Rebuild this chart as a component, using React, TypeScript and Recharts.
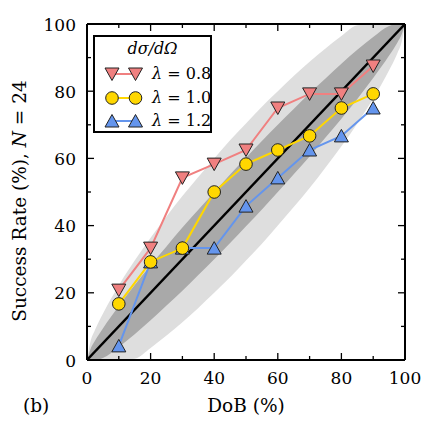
import React from 'react';
import { ComposedChart, Line, Area, XAxis, YAxis, Legend } from 'recharts';

// Degree of belief (%) for each run
const dob = [10, 20, 30, 40, 50, 60, 70, 80, 90];
// Success rate (%) for the three λ values, N = 24
const rateL08 = [20.8, 33.3, 54.2, 58.3, 62.5, 75.0, 79.2, 79.2, 87.5];
const rateL10 = [16.7, 29.2, 33.3, 50.0, 58.3, 62.5, 66.7, 75.0, 79.2];
const rateL12 = [4.2, 29.2, 33.3, 33.3, 45.8, 54.2, 62.5, 66.7, 75.0];

// Grey confidence bands read along the diagonal
const bandX = [0, 1, 2.5, 5, 10, 15, 20, 25, 30, 35, 40, 45, 50, 55, 60, 65, 70, 75, 80, 85, 90, 95, 97.5, 99, 100];
const outerLo = [0, 0, 0, 0, 0, 0.4, 3.6, 7.3, 11.2, 15.5, 20, 24.6, 29.6, 34.6, 40, 45.5, 51.2, 57.3, 63.6, 70.4, 77.8, 86.2, 91.1, 94.9, 100];
const outerHi = [0, 5.1, 8.9, 13.8, 22.2, 29.6, 36.4, 42.7, 48.8, 54.5, 60, 65.4, 70.4, 75.4, 80, 84.5, 88.8, 92.7, 96.4, 99.6, 100, 100, 100, 100, 100];
const innerLo = [0, 0, 0, 0.6, 3.9, 7.7, 11.8, 16.2, 20.6, 25.3, 30, 34.8, 39.8, 44.8, 50, 55.3, 60.6, 66.2, 71.8, 77.7, 83.9, 90.6, 94.3, 97, 100];
const innerHi = [0, 3.0, 5.7, 9.4, 16.1, 22.3, 28.2, 33.8, 39.4, 44.7, 50, 55.2, 60.2, 65.2, 70, 74.7, 79.4, 83.8, 88.2, 92.3, 96.1, 99.4, 100, 100, 100];

const diagX = [0, 100];

const axisTicks = [0, 10, 20, 30, 40, 50, 60, 70, 80, 90, 100];
const labelledTicks = [0, 20, 40, 60, 80, 100];

const seriesNames = ['λ = 0.8', 'λ = 1.0', 'λ = 1.2'];
const legendTitle = 'dσ/dΩ';

const RED = '#f08080';
const GOLD = '#ffd700';
const BLUE = '#6495ed';
const EDGE = '#222222';
const LIGHT = '#dedede';
const DARK = '#a9a9a9';
const FONT = "'DejaVu Serif', serif";
const FS = 17;
const LFS = 18.5;

const outerBand = bandX.map((x, i) => ({ x, range: [outerLo[i], outerHi[i]] }));
const innerBand = bandX.map((x, i) => ({ x, range: [innerLo[i], innerHi[i]] }));
const diagData = diagX.map((x) => ({ x, y: x }));
const d08 = dob.map((x, i) => ({ x, y: rateL08[i] }));
const d10 = dob.map((x, i) => ({ x, y: rateL10[i] }));
const d12 = dob.map((x, i) => ({ x, y: rateL12[i] }));

const MAJ = 7;
const MIN = 4;

function triDown(cx: number, cy: number) {
  return `M${cx - 7},${cy - 6} L${cx + 7},${cy - 6} L${cx},${cy + 6.5} Z`;
}
function triUp(cx: number, cy: number) {
  return `M${cx - 7},${cy + 6} L${cx + 7},${cy + 6} L${cx},${cy - 6.5} Z`;
}

const BottomTick = (props: any) => {
  const { x, y, payload } = props;
  const v = payload.value;
  const major = labelledTicks.includes(v);
  return (
    <g>
      <line x1={x} x2={x} y1={y} y2={y - (major ? MAJ : MIN)} stroke="#000" strokeWidth={1.3} />
      {major && (
        <text x={x} y={y + 24} textAnchor="middle" fontFamily={FONT} fontSize={FS} fill="#000">
          {v}
        </text>
      )}
    </g>
  );
};
const TopTick = (props: any) => {
  const { x, y, payload } = props;
  const major = labelledTicks.includes(payload.value);
  return <line x1={x} x2={x} y1={y} y2={y + (major ? MAJ : MIN)} stroke="#000" strokeWidth={1.3} />;
};
const LeftTick = (props: any) => {
  const { x, y, payload } = props;
  const v = payload.value;
  const major = labelledTicks.includes(v);
  return (
    <g>
      <line x1={x} x2={x + (major ? MAJ : MIN)} y1={y} y2={y} stroke="#000" strokeWidth={1.3} />
      {major && (
        <text x={x - 11} y={y + 6.5} textAnchor="end" fontFamily={FONT} fontSize={FS} fill="#000">
          {v}
        </text>
      )}
    </g>
  );
};
const RightTick = (props: any) => {
  const { x, y, payload } = props;
  const major = labelledTicks.includes(payload.value);
  return <line x1={x} x2={x - (major ? MAJ : MIN)} y1={y} y2={y} stroke="#000" strokeWidth={1.3} />;
};

const dotDown = (fill: string) => (p: any) => (
  <path key={`d${p.index}`} d={triDown(p.cx, p.cy)} fill={fill} stroke={EDGE} strokeWidth={1} />
);
const dotUp = (fill: string) => (p: any) => (
  <path key={`u${p.index}`} d={triUp(p.cx, p.cy)} fill={fill} stroke={EDGE} strokeWidth={1} />
);
const dotCircle = (fill: string) => (p: any) => (
  <circle key={`c${p.index}`} cx={p.cx} cy={p.cy} r={6.3} fill={fill} stroke={EDGE} strokeWidth={1} />
);

function LegendMarker({ kind, color }: { kind: string; color: string }) {
  const shape = (cx: number, cy: number) => {
    if (kind === 'down') return <path d={triDown(cx, cy)} fill={color} stroke={EDGE} strokeWidth={1} />;
    if (kind === 'up') return <path d={triUp(cx, cy)} fill={color} stroke={EDGE} strokeWidth={1} />;
    return <circle cx={cx} cy={cy} r={6.3} fill={color} stroke={EDGE} strokeWidth={1} />;
  };
  return (
    <svg width={40} height={16} style={{ display: 'block' }}>
      <line x1={7} x2={33} y1={8} y2={8} stroke={color} strokeWidth={2} />
      {shape(8, 8)}
      {shape(31.5, 8)}
    </svg>
  );
}

const legendKinds = ['down', 'circle', 'up'];
const legendColors = [RED, GOLD, BLUE];

const LegendBox = () => (
  <div
    style={{
      border: '2px solid #000',
      background: '#fff',
      width: 115,
      height: 94,
      boxSizing: 'content-box',
      fontFamily: FONT,
      fontSize: 16,
      color: '#000',
      position: 'relative',
    }}
  >
    <div style={{ position: 'absolute', left: 0, width: 115, top: 1, textAlign: 'center', fontStyle: 'italic', lineHeight: '22px' }}>
      {legendTitle}
    </div>
    {seriesNames.map((name, i) => (
      <div
        key={name}
        style={{ position: 'absolute', left: 9, top: 26 + i * 23.5, display: 'flex', alignItems: 'center', height: 22 }}
      >
        <LegendMarker kind={legendKinds[i]} color={legendColors[i]} />
        <span style={{ marginLeft: 8, whiteSpace: 'nowrap', lineHeight: '22px' }}>
          <i>λ</i>
          {name.slice(1)}
        </span>
      </div>
    ))}
  </div>
);

const YLabel = (props: any) => {
  const vb = props.viewBox || { x: 0, y: 24, width: 87, height: 336 };
  const cx = 19;
  const cy = vb.y + vb.height / 2 + 9;
  return (
    <text
      x={cx}
      y={cy}
      transform={`rotate(-90 ${cx} ${cy})`}
      textAnchor="middle"
      dominantBaseline="central"
      fontFamily={FONT}
      fontSize={LFS}
      fill="#000"
    >
      Success Rate (%), <tspan fontStyle="italic">N</tspan> = 24
    </text>
  );
};

const XLabel = (props: any) => {
  const vb = props.viewBox || { x: 87, y: 360, width: 318, height: 76 };
  return (
    <g>
      <text x={vb.x + vb.width / 2} y={412} textAnchor="middle" fontFamily={FONT} fontSize={LFS} fill="#000">
        DoB (%)
      </text>
      <text x={23} y={412} textAnchor="start" fontFamily={FONT} fontSize={LFS} fill="#000">
        (b)
      </text>
    </g>
  );
};

export default function App() {
  return (
    <div style={{ position: 'absolute', left: 0, top: 0, width: 436, height: 436, background: '#fff' }}>
      <style>{`body{margin:0;background:#fff;}`}</style>
      <ComposedChart width={436} height={436} margin={{ top: 0, right: 0, bottom: 0, left: 0 }}>
        <XAxis
          xAxisId="b"
          dataKey="x"
          type="number"
          domain={[0, 100]}
          ticks={axisTicks}
          interval={0}
          allowDataOverflow
          orientation="bottom"
          height={76}
          tickSize={0}
          tickMargin={0}
          tickLine={false}
          tick={<BottomTick />}
          axisLine={{ stroke: '#000', strokeWidth: 2 }}
          label={<XLabel />}
        />
        <XAxis
          xAxisId="t"
          dataKey="x"
          type="number"
          domain={[0, 100]}
          ticks={axisTicks}
          interval={0}
          allowDataOverflow
          orientation="top"
          height={24}
          tickSize={0}
          tickMargin={0}
          tickLine={false}
          tick={<TopTick />}
          axisLine={{ stroke: '#000', strokeWidth: 2 }}
        />
        <YAxis
          yAxisId="l"
          type="number"
          domain={[0, 100]}
          ticks={axisTicks}
          interval={0}
          allowDataOverflow
          orientation="left"
          width={87}
          tickSize={0}
          tickMargin={0}
          tickLine={false}
          tick={<LeftTick />}
          axisLine={{ stroke: '#000', strokeWidth: 2 }}
          label={<YLabel />}
        />
        <YAxis
          yAxisId="r"
          type="number"
          domain={[0, 100]}
          ticks={axisTicks}
          interval={0}
          allowDataOverflow
          orientation="right"
          width={31}
          tickSize={0}
          tickMargin={0}
          tickLine={false}
          tick={<RightTick />}
          axisLine={{ stroke: '#000', strokeWidth: 2 }}
        />
        <Area
          xAxisId="b"
          yAxisId="l"
          data={outerBand}
          dataKey="range"
          type="monotone"
          stroke="none"
          fill={LIGHT}
          fillOpacity={1}
          dot={false}
          activeDot={false}
          isAnimationActive={false}
        />
        <Area
          xAxisId="b"
          yAxisId="l"
          data={innerBand}
          dataKey="range"
          type="monotone"
          stroke="none"
          fill={DARK}
          fillOpacity={1}
          dot={false}
          activeDot={false}
          isAnimationActive={false}
        />
        <Line
          xAxisId="b"
          yAxisId="l"
          data={diagData}
          dataKey="y"
          type="linear"
          stroke="#000"
          strokeWidth={2.4}
          dot={false}
          activeDot={false}
          isAnimationActive={false}
        />
        <Line
          xAxisId="b"
          yAxisId="l"
          data={d12}
          dataKey="y"
          type="linear"
          stroke={BLUE}
          strokeWidth={2}
          dot={dotUp(BLUE)}
          activeDot={false}
          isAnimationActive={false}
        />
        <Line
          xAxisId="b"
          yAxisId="l"
          data={d10}
          dataKey="y"
          type="linear"
          stroke={GOLD}
          strokeWidth={2}
          dot={dotCircle(GOLD)}
          activeDot={false}
          isAnimationActive={false}
        />
        <Line
          xAxisId="b"
          yAxisId="l"
          data={d08}
          dataKey="y"
          type="linear"
          stroke={RED}
          strokeWidth={2}
          dot={dotDown(RED)}
          activeDot={false}
          isAnimationActive={false}
        />
        <Legend
          layout="vertical"
          align="center"
          verticalAlign="middle"
          wrapperStyle={{ left: 93, top: 35, width: 'auto', height: 'auto' }}
          content={<LegendBox />}
        />
      </ComposedChart>
    </div>
  );
}
